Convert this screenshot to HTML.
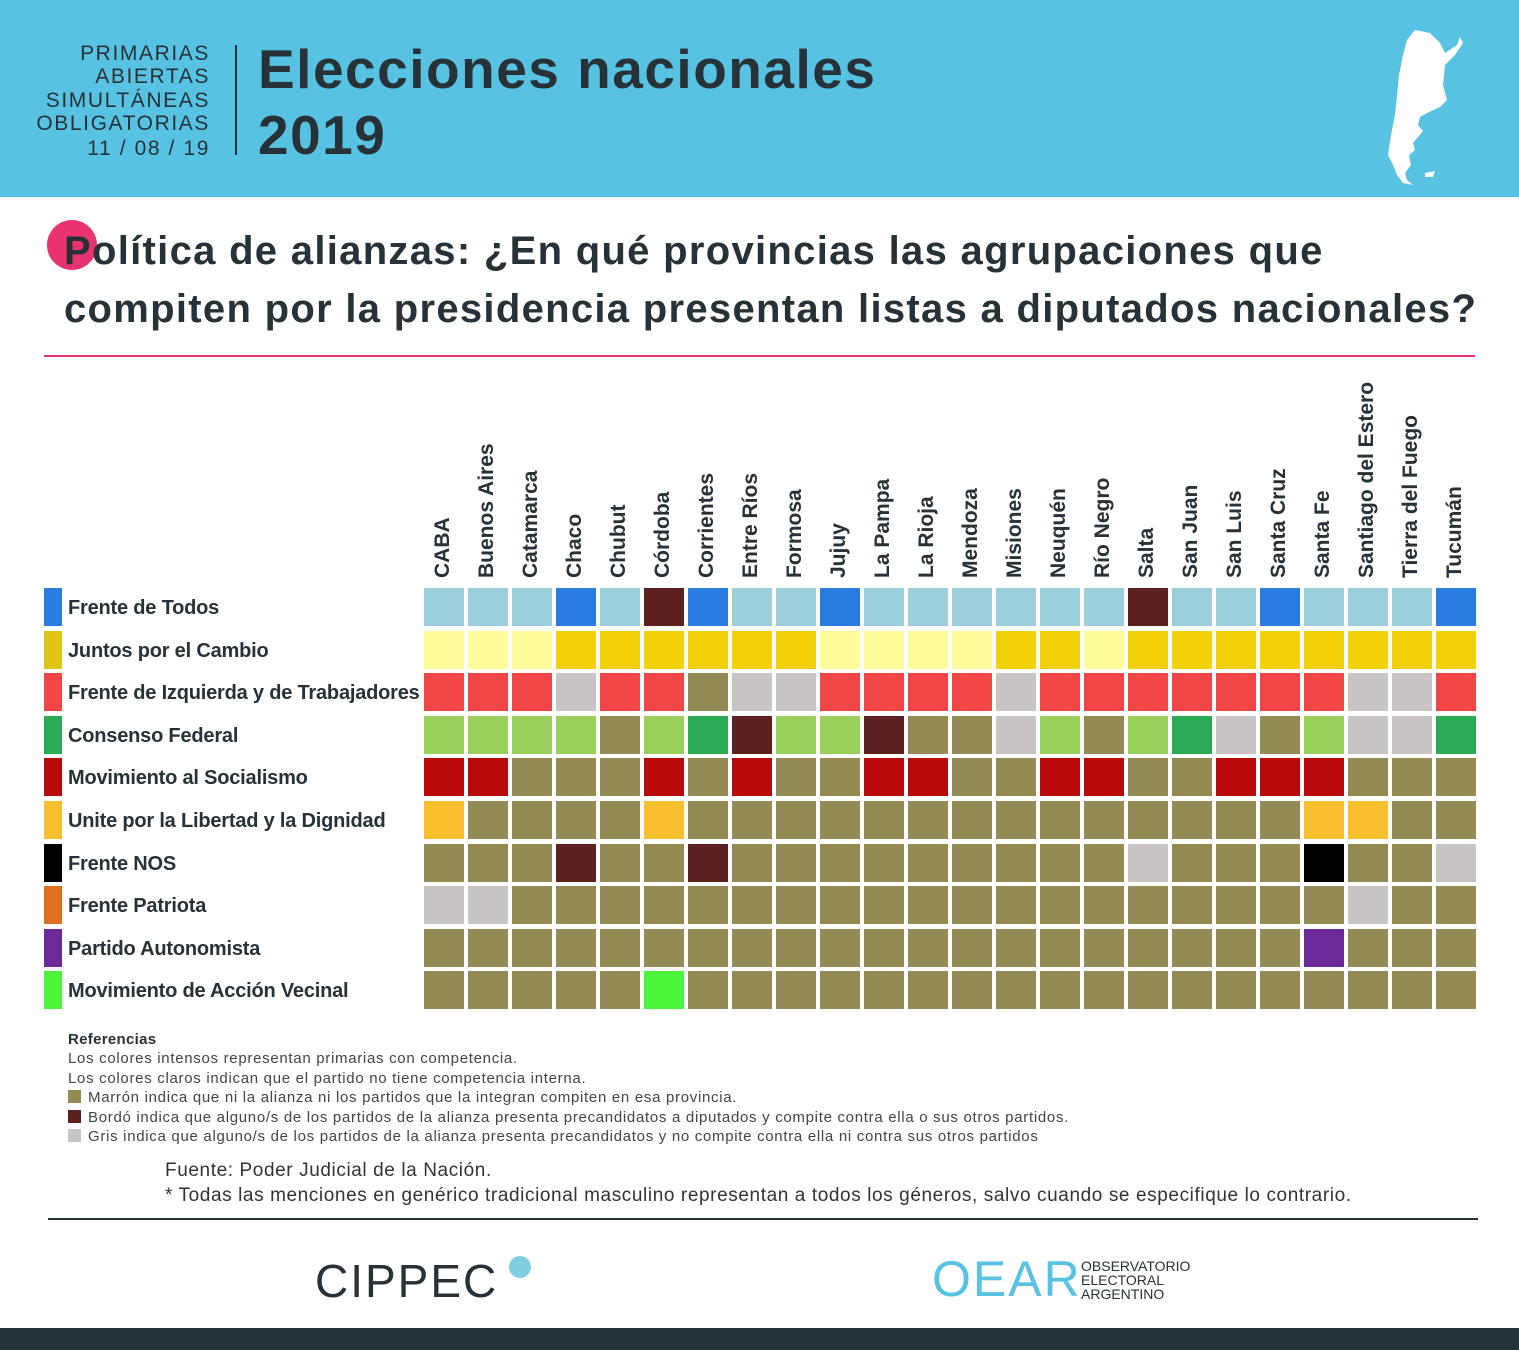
<!DOCTYPE html>
<html><head><meta charset="utf-8"><style>
body{margin:0;width:1519px;height:1350px;position:relative;background:#fff;font-family:"Liberation Sans",sans-serif;color:#263238;overflow:hidden}
.abs{position:absolute}
.hl{position:absolute;right:1309px;font-size:21px;letter-spacing:1.6px;color:#263238;font-weight:300;white-space:nowrap;line-height:23px}
.rl{position:absolute;left:68px;font-size:20px;letter-spacing:-0.2px;font-weight:bold;white-space:nowrap}
.sw{position:absolute;left:44px;width:18px;height:38px}
.cl{position:absolute;font-size:21px;font-weight:bold;white-space:nowrap;transform-origin:0 0;transform:rotate(-90deg)}
.ref{position:absolute;left:68px;font-size:15px;letter-spacing:0.7px;color:#444;white-space:nowrap}
.rs{display:inline-block;width:13px;height:13px;margin-right:7px;vertical-align:-1px}
</style></head><body>
<div class="abs" style="left:0;top:0;width:1519px;height:197px;background:#58c2e3"></div>
<div>
<div class="hl" style="top:42px">PRIMARIAS</div>
<div class="hl" style="top:65px">ABIERTAS</div>
<div class="hl" style="top:89px">SIMULTÁNEAS</div>
<div class="hl" style="top:112px">OBLIGATORIAS</div>
<div class="hl" style="top:137px">11 / 08 / 19</div>
</div>
<div class="abs" style="left:235px;top:45px;width:2px;height:110px;background:#263238"></div>
<div class="abs" style="left:258px;top:36px;font-size:55px;letter-spacing:1.5px;font-weight:bold;line-height:66px">Elecciones nacionales<br>2019</div>
<svg class="abs" style="left:1385px;top:25px" width="80" height="165" viewBox="0 0 80 165"><path d="M30 5 L45 8 L55 18 L60 28 L72 20 L75 12 L78 18 L70 30 L60 40 L58 60 L62 75 L55 82 L42 88 L35 92 L33 100 L38 106 L33 112 L28 118 L30 125 L24 130 L26 140 L20 148 L22 155 L28 160 L18 158 L12 150 L8 140 L3 130 L6 110 L10 90 L12 70 L14 50 L18 30 L22 15 Z" fill="#fff"/><path d="M40 148 L50 146 L48 152 L40 152Z" fill="#fff"/></svg>

<div class="abs" style="left:47px;top:220px;width:50px;height:50px;border-radius:50%;background:#e8336e"></div>
<div class="abs" style="left:64px;top:222px;font-size:40px;font-weight:bold;line-height:58px;white-space:nowrap;letter-spacing:1.3px">Política de alianzas: ¿En qué provincias las agrupaciones que<br>compiten por la presidencia presentan listas a diputados nacionales?</div>
<div class="abs" style="left:44px;top:355px;width:1431px;height:2px;background:#e8336e"></div>

<div id="chart"></div>

<div>
<div class="ref" style="top:1031px;font-weight:bold;color:#263238;letter-spacing:0.3px">Referencias</div>
<div class="ref" style="top:1050px">Los colores intensos representan primarias con competencia.</div>
<div class="ref" style="top:1070px">Los colores claros indican que el partido no tiene competencia interna.</div>
<div class="ref" style="top:1089px"><span class="rs" style="background:#948a54"></span>Marrón indica que ni la alianza ni los partidos que la integran compiten en esa provincia.</div>
<div class="ref" style="top:1109px"><span class="rs" style="background:#5c2020"></span>Bordó indica que alguno/s de los partidos de la alianza presenta precandidatos a diputados y compite contra ella o sus otros partidos.</div>
<div class="ref" style="top:1128px"><span class="rs" style="background:#c8c4c4"></span>Gris indica que alguno/s de los partidos de la alianza presenta precandidatos y no compite contra ella ni contra sus otros partidos</div>
</div>
<div class="abs" style="left:165px;top:1158px;font-size:19px;letter-spacing:0.6px;line-height:25px;color:#333;white-space:nowrap">Fuente: Poder Judicial de la Nación.<br>* Todas las menciones en genérico tradicional masculino representan a todos los géneros, salvo cuando se especifique lo contrario.</div>
<div class="abs" style="left:48px;top:1218px;width:1430px;height:2px;background:#263238"></div>
<div class="abs" style="left:315px;top:1254px;font-size:46px;font-weight:300;letter-spacing:2px;color:#263238">CIPPEC</div>
<div class="abs" style="left:509px;top:1256px;width:22px;height:22px;border-radius:50%;background:#7fcfe0"></div>
<div class="abs" style="left:932px;top:1250px;font-size:50px;letter-spacing:2px;color:#58c2e3">OEAR</div>
<div class="abs" style="left:1081px;top:1259px;font-size:14px;line-height:14px;color:#263238">OBSERVATORIO<br>ELECTORAL<br>ARGENTINO</div>
<div class="abs" style="left:0;top:1328px;width:1519px;height:22px;background:#263238"></div>

<script>
const provinces=["CABA","Buenos Aires","Catamarca","Chaco","Chubut","Córdoba","Corrientes","Entre Ríos","Formosa","Jujuy","La Pampa","La Rioja","Mendoza","Misiones","Neuquén","Río Negro","Salta","San Juan","San Luis","Santa Cruz","Santa Fe","Santiago del Estero","Tierra del Fuego","Tucumán"];
const parties=["Frente de Todos","Juntos por el Cambio","Frente de Izquierda y de Trabajadores","Consenso Federal","Movimiento al Socialismo","Unite por la Libertad y la Dignidad","Frente NOS","Frente Patriota","Partido Autonomista","Movimiento de Acción Vecinal"];
// L=light, I=intense, M=marrón, B=bordó, G=gris
const status=[
"LLLILBILLILLLLLLBLLILLLI",
"LLLIIIIIILLLLIILIIIIIIII",
"IIIGIIMGGIIIIGIIIIIIIGGI",
"LLLLMLIBLLBMMGLMLIGMLGGI",
"IIMMMIMIMMIIMMIIMMIIIMMM",
"IMMMMIMMMMMMMMMMMMMMIIMM",
"MMMBMMBMMMMMMMMMGMMMIMMG",
"GGMMMMMMMMMMMMMMMMMMMGMM",
"MMMMMMMMMMMMMMMMMMMMIMMM",
"MMMMMIMMMMMMMMMMMMMMMMMM"];
const intense=["#2a7de0","#f2d10a","#f24646","#2bab55","#b80a0a","#f8bf2e","#000000","#e07020","#6a2a9a","#4cf53a"];
const light=["#9ccfdc","#fefb9a","#f24646","#98d05a","#b80a0a","#f8bf2e","#000000","#e07020","#6a2a9a","#4cf53a"];
const legendCol=["#2a7de0","#ddc614","#f24646","#2bab55","#b80a0a","#f8bf2e","#000000","#e07020","#6a2a9a","#4cf53a"];
const X0=424,PX=44,CW=40,Y0=588,PY=42.6,CH=38;
const xs=i=>X0+i*PX, ys=j=>Y0+j*PY;
const c=document.getElementById('chart');
provinces.forEach((p,i)=>{
  const d=document.createElement('div');d.className='cl';d.textContent=p;
  
  
  d.style.left=(xs(i)+CW/2-13)+'px';d.style.top='578px';c.appendChild(d);
});
parties.forEach((p,j)=>{
  const s=document.createElement('div');s.className='sw';s.style.top=ys(j)+'px';s.style.background=legendCol[j];
  
  
  c.appendChild(s);
  const l=document.createElement('div');l.className='rl';l.textContent=p;l.style.top=(ys(j)+9)+'px';
  
  
  c.appendChild(l);
  for(let i=0;i<provinces.length;i++){
    const k=status[j][i];
    const col=k==='I'?intense[j]:k==='L'?light[j]:k==='B'?'#5c2020':k==='G'?'#c8c4c4':'#948a54';
    const e=document.createElement('div');
    
    
    e.title=p+' - '+provinces[i];
    e.style.cssText=`position:absolute;left:${xs(i)}px;top:${ys(j)}px;width:${CW}px;height:${CH}px;background:${col}`;
    c.appendChild(e);
  }
});
</script>
</body></html>
